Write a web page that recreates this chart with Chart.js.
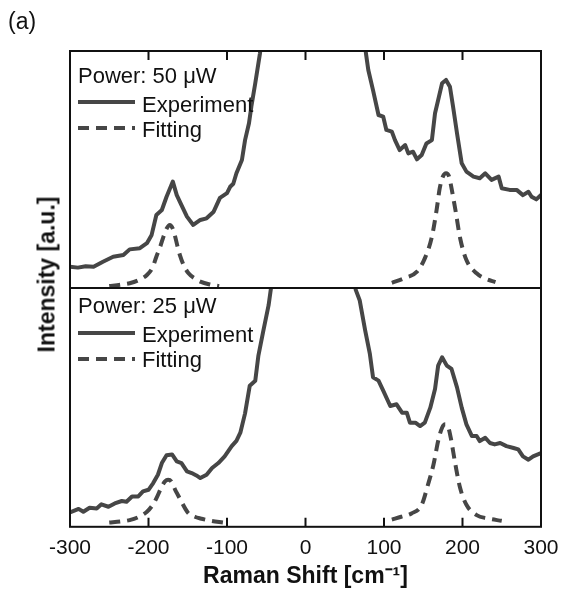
<!DOCTYPE html>
<html><head><meta charset="utf-8">
<script src="https://cdn.jsdelivr.net/npm/chart.js@4"></script>
<style>
html,body{margin:0;padding:0;background:#fff;}
#wrap{position:relative;width:561px;height:591px;overflow:hidden;background:#fff;}
canvas{position:absolute;left:0;}
#cTop{top:0;}
#cBot{top:278px;}
#panelLabel{position:absolute;left:8px;top:10px;font:23px "Liberation Sans",Arial,sans-serif;line-height:23px;color:#111;}
#yTitle{position:absolute;width:300px;left:-103px;top:263px;height:23px;text-align:center;font:bold 23px "Liberation Sans",Arial,sans-serif;line-height:23px;color:#111;transform:rotate(-90deg);white-space:nowrap;}
</style></head>
<body>
<div id="wrap">
<canvas id="cTop" width="561" height="290"></canvas>
<canvas id="cBot" width="561" height="313"></canvas>
<div id="panelLabel">(a)</div>
<div id="yTitle">Intensity [a.u.]</div>
</div>
<script>
// ---- data (x: Raman shift in cm^-1, y: intensity in arbitrary units, panel range 0..100) ----
const xTicks = [-300, -200, -100, 0, 100, 200, 300];
const tickLabels = ['-300', '-200', '-100', '0', '100', '200', '300'];
const innerTicks = [-200, -100, 0, 100, 200];

const seriesNames = ['Experiment', 'Fitting'];
const panelTitles = ['Power: 50 \u03BCW', 'Power: 25 \u03BCW'];

// Power 50 uW - experiment
const exp50X = [-300,-290,-280,-270,-258,-245,-232,-224,-211,-202,-196,-190,-183,-177,-169,-164,-158,-151,-143,-134,-126,-117,-109,-100,-96,-92,-88,-81,-77,-72,-69,-64,-58,-52,
                72,77,80,86,93,99,103,110,114,120,127,131,137,142,148,154,161,165,169,174,179,184,188,193,199,205,214,222,229,237,246,250,260,269,277,284,288,294,300];
const exp50Y = [9.0,8.6,9.2,9.0,11.1,13.2,13.9,16.3,16.8,18.9,22.4,30.8,32.9,38.5,44.9,39.2,35.0,30.1,26.6,28.7,29.4,32.2,38.0,40.0,42.7,44.0,48.4,54.0,62.4,69.5,76.5,86.4,99.0,115,
                115,99,92,83.5,73,72.3,66.7,66,62.4,58.2,60.3,56.8,57.5,54.3,56.1,61.0,62.4,73.7,79.3,86.4,87.8,84.9,76.5,65.3,52.6,49.1,47.0,46.3,48.4,45.6,47.0,42.1,41.4,41.4,39.2,40.6,38.5,37.4,39.2];
// Power 50 uW - fitting (two peaks)
const fit50X = [-250,-236,-224,-212,-202,-195,-190,-185,-181,-177,-173,-169,-166,-163,-160,-155,-149,-140,-134,-122,-110,
                0,
                110,125,142,152,161,167,171,175,179,183,186,191,197,205,218,230,242];
const fit50Y = [0.8,1.4,2.0,3.4,5.5,8.5,13.2,17.5,21.6,25.0,26.6,25.0,21.6,17.5,13.9,9.5,6.2,3.8,2.7,1.5,0.8,
                null,
                2.2,4.0,6.9,12.5,21.6,32.9,42.1,47.0,48.4,47.0,42.1,32.9,21.0,11.8,6.2,3.8,2.5];

// Power 25 uW - experiment
const exp25X = [-300,-289,-283,-275,-266,-260,-251,-243,-234,-228,-221,-213,-207,-200,-194,-188,-183,-177,-170,-164,-158,-151,-145,-139,-134,-126,-119,-111,-103,-94,-88,-83,-77,-71,-64,-60,-54,-47,-44,-40,
                60,64,69,76,82,86,93,99,108,116,123,129,133,140,146,152,159,165,169,174,180,186,193,199,205,212,218,222,229,235,241,248,256,265,271,277,284,290,300];
const exp25Y = [6.0,7.5,6.3,8.0,7.7,9.4,8.4,9.8,10.8,10.5,12.7,12.7,14.8,15.5,18.3,21.8,26.7,30.0,30.3,27.4,26.7,23.2,22.5,21.5,20.4,21.8,24.6,26.7,29.5,33.8,36.0,39.4,47.5,59.1,61.2,71.7,81.6,92.8,99.9,110,
                110,99.2,94.9,82.3,72.4,62.6,61.2,57.0,50.6,51.3,47.8,47.8,43.6,43.6,42.2,43.6,49.9,57.7,67.5,71.0,67.5,66.1,58.4,49.9,42.9,38.0,38.0,35.9,37.3,35.1,34.5,35.1,33.8,33.0,32.4,29.5,28.1,29.5,30.9];
// Power 25 uW - fitting (two peaks)
const fit25X = [-250,-236,-224,-212,-202,-195,-190,-183,-179,-175,-171,-166,-162,-158,-153,-149,-141,-134,-120,-105,
                0,
                110,122,135,148,156,163,169,174,178,182,185,191,197,205,218,232,250];
const fit25Y = [1.8,2.2,2.8,4.2,6.3,9.0,11.9,16.9,19.0,19.7,19.0,15.5,13.0,10.5,7.5,5.6,4.2,3.5,2.5,1.8,
                null,
                3.0,4.2,5.6,9.2,17.6,26.0,35.9,41.5,42.9,41.5,37.3,26.0,16.2,9.2,4.9,3.5,2.5];

// ---- rendering ----
const FONT = '"Liberation Sans", Arial, Helvetica, sans-serif';
const LINE = '#464646';
const INK = '#111111';

function pts(xs, ys) { return xs.map((x, i) => ({ x: x, y: ys[i] })); }

function makeDatasets(ex, ey, fx, fy) {
  return [
    { label: seriesNames[0], data: pts(ex, ey), borderColor: LINE, borderWidth: 4, pointRadius: 0,
      tension: 0, clip: 0, borderJoinStyle: 'round', borderCapStyle: 'round' },
    { label: seriesNames[1], data: pts(fx, fy), borderColor: LINE, borderWidth: 4, pointRadius: 0,
      borderDash: [11, 7], cubicInterpolationMode: 'monotone', spanGaps: false, clip: 0 }
  ];
}

const framePlugin = {
  id: 'frame',
  afterDatasetsDraw(chart, args, opts) {
    const ctx = chart.ctx, a = chart.chartArea, xs = chart.scales.x;
    ctx.save();
    ctx.strokeStyle = INK; ctx.lineWidth = 2; ctx.setLineDash([]);
    ctx.strokeRect(a.left, a.top, a.right - a.left, a.bottom - a.top);
    ctx.beginPath();
    innerTicks.forEach(v => {
      const px = xs.getPixelForValue(v);
      if (opts.side === 'top') { ctx.moveTo(px, a.top); ctx.lineTo(px, a.top + 9); }
      else { ctx.moveTo(px, a.bottom); ctx.lineTo(px, a.bottom - 9); }
    });
    ctx.stroke();
    // in-plot legend
    ctx.font = '22px ' + FONT; ctx.fillStyle = INK; ctx.textBaseline = 'alphabetic'; ctx.textAlign = 'left';
    ctx.fillText(opts.title, a.left + 8, a.top + opts.titleY);
    chart.data.datasets.forEach((ds, i) => {
      const ly = a.top + opts.lineY[i];
      ctx.save();
      ctx.strokeStyle = ds.borderColor; ctx.lineWidth = ds.borderWidth;
      ctx.setLineDash(ds.borderDash || []);
      ctx.beginPath(); ctx.moveTo(a.left + 8, ly); ctx.lineTo(a.left + 65, ly); ctx.stroke();
      ctx.restore();
      ctx.fillText(ds.label, a.left + 72, a.top + opts.textY[i]);
    });
    ctx.restore();
  }
};

const baseOpts = {
  responsive: false, animation: false, devicePixelRatio: 1,
  events: [],
  elements: { point: { radius: 0 } }
};

new Chart(document.getElementById('cTop'), {
  type: 'line',
  data: { datasets: makeDatasets(exp50X, exp50Y, fit50X, fit50Y) },
  plugins: [framePlugin],
  options: Object.assign({}, baseOpts, {
    layout: { padding: { left: 70, right: 20, top: 51, bottom: 2 } },
    plugins: {
      legend: { display: false }, tooltip: { enabled: false },
      frame: { side: 'top', title: panelTitles[0], titleY: 32, lineY: [51, 77], textY: [61, 86] }
    },
    scales: {
      x: { type: 'linear', min: -300, max: 300, display: false },
      y: { type: 'linear', min: 0, max: 100, display: false }
    }
  })
});

new Chart(document.getElementById('cBot'), {
  type: 'line',
  data: { datasets: makeDatasets(exp25X, exp25Y, fit25X, fit25Y) },
  plugins: [framePlugin],
  options: Object.assign({}, baseOpts, {
    layout: { padding: { left: 70, right: 20, top: 10, bottom: 0.4 } },
    plugins: {
      legend: { display: false }, tooltip: { enabled: false },
      frame: { side: 'bottom', title: panelTitles[1], titleY: 25, lineY: [45, 71], textY: [54, 79] }
    },
    scales: {
      x: {
        type: 'linear', min: -300, max: 300, position: 'bottom',
        grid: { display: false, drawTicks: false }, border: { display: false },
        afterBuildTicks: (scale) => { scale.ticks = xTicks.map(v => ({ value: v })); },
        afterFit: (scale) => { scale.paddingLeft = 0; scale.paddingRight = 0; },
        ticks: {
          padding: 9, color: INK, maxRotation: 0, autoSkip: false,
          font: { family: FONT, size: 21 },
          callback: (v) => { const i = xTicks.indexOf(v); return i >= 0 ? tickLabels[i] : ''; }
        },
        title: {
          display: true, text: 'Raman Shift [cm\u207B\u00B9]', color: INK,
          font: { family: FONT, size: 23, weight: 'bold' }, padding: { top: -7, bottom: 0 }
        }
      },
      y: { type: 'linear', min: 0, max: 100, display: false }
    }
  })
});
</script>
</body></html>
